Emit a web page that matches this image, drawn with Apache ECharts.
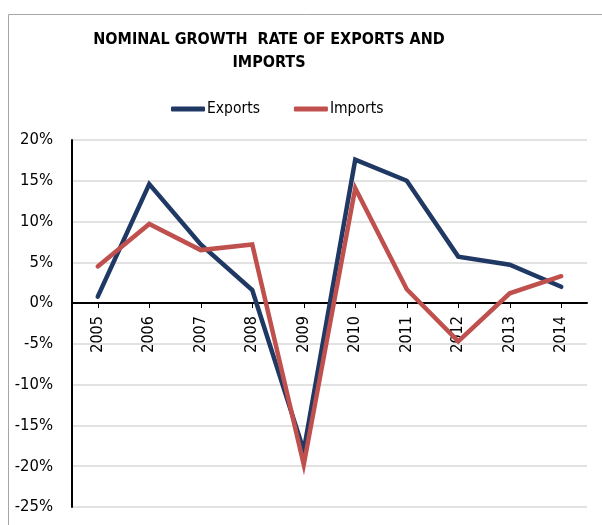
<!DOCTYPE html>
<html>
<head>
<meta charset="utf-8">
<script src="https://cdn.jsdelivr.net/npm/echarts@6/dist/echarts.min.js"></script>
<style>
html,body{margin:0;padding:0;background:#fff;}
#main{width:602px;height:525px;}
</style>
</head>
<body>
<div id="main"></div>
<script>
const categories = ['2005','2006','2007','2008','2009','2010','2011','2012','2013','2014'];
const exportsData = [0.8, 14.6, 7.2, 1.6, -18.1, 17.6, 15.0, 5.7, 4.7, 2.0];
const importsData = [4.5, 9.7, 6.5, 7.2, -19.8, 14.1, 1.7, -4.7, 1.2, 3.3];
const yTicks = {min: -25, max: 20, interval: 5};
const titleText = 'NOMINAL GROWTH  RATE OF EXPORTS AND\nIMPORTS';
const FONT = '"DejaVu Sans Condensed", "DejaVu Sans", sans-serif';

const GRID_TOP = 140, GRID_BOTTOM = 18, H = 525;
const plotH = H - GRID_TOP - GRID_BOTTOM;
// distance from bottom of plot to the zero line (via value range)
const zeroOffset = plotH * (0 - yTicks.min) / (yTicks.max - yTicks.min);

const chart = echarts.init(document.getElementById('main'), null, {renderer: 'canvas'});
chart.setOption({
  animation: false,
  backgroundColor: '#fff',
  graphic: [{
    type: 'rect', left: 6, top: 12, silent: true,
    shape: {width: 700, height: 700},
    style: {fill: 'none', stroke: '#a6a6a6', lineWidth: 1}
  }],
  title: {
    text: titleText,
    left: 264, top: 23, textAlign: 'center',
    textStyle: {fontFamily: FONT, fontWeight: 'bold', fontSize: 16, color: '#000', lineHeight: 23}
  },
  legend: {
    left: 171, top: 101, padding: 0,
    itemWidth: 34, itemHeight: 5, itemGap: 34,
    icon: 'roundRect',
    textStyle: {fontFamily: FONT, fontSize: 15.5, color: '#000', padding: [0,0,0,-3]},
    data: ['Exports', 'Imports']
  },
  grid: {left: 72, right: 15, top: GRID_TOP, bottom: GRID_BOTTOM, containLabel: false, outerBoundsMode: 'none'},
  xAxis: {
    type: 'category',
    data: categories,
    boundaryGap: true,
    offset: -zeroOffset,
    axisLine: {onZero: false, lineStyle: {color: '#000', width: 2}},
    axisTick: {show: true, alignWithLabel: true, length: 5, lineStyle: {color: '#000', width: 1}},
    axisLabel: {rotate: 90, margin: 13, fontFamily: FONT, fontSize: 16, color: '#000'},
    splitLine: {show: false}
  },
  yAxis: {
    type: 'value',
    min: yTicks.min, max: yTicks.max, interval: yTicks.interval,
    axisLine: {show: true, lineStyle: {color: '#000', width: 2}},
    axisTick: {show: false},
    axisLabel: {formatter: '{value}%', fontFamily: FONT, fontSize: 16.5, color: '#000', margin: 19},
    splitLine: {show: true, lineStyle: {color: '#d9d9d9', width: 1.5}}
  },
  series: [
    {name: 'Exports', type: 'line', data: exportsData, symbol: 'none',
     lineStyle: {color: '#1f3864', width: 4.5, cap: 'round', join: 'miter'}, itemStyle: {color: '#1f3864'}},
    {name: 'Imports', type: 'line', data: importsData, symbol: 'none',
     lineStyle: {color: '#c0504d', width: 4.5, cap: 'round', join: 'miter'}, itemStyle: {color: '#c0504d'}}
  ]
});
</script>
</body>
</html>
